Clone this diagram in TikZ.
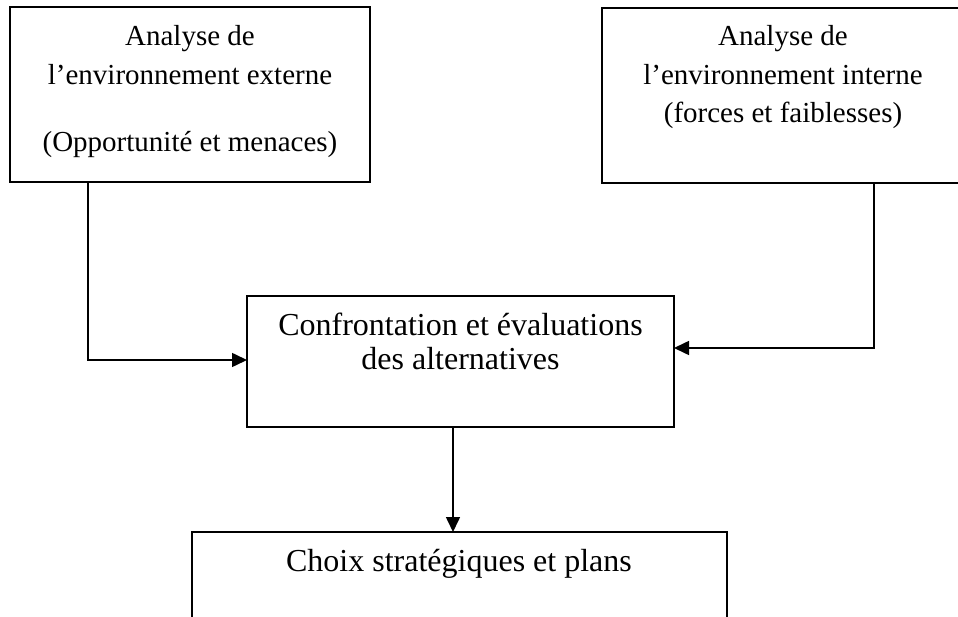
\documentclass[tikz,border=0pt]{standalone}
\usepackage{fontspec}
\setmainfont{Liberation Serif}
\usetikzlibrary{arrows.meta}
\begin{document}
\begin{tikzpicture}[x=1pt,y=1pt,
  box/.style={draw,line width=1.6pt,inner sep=0pt,outer sep=0pt,rectangle},
  txtsmall/.style={anchor=base,inner sep=0pt,font=\fontsize{29}{39}\selectfont},
  txtbig/.style={anchor=base,inner sep=0pt,font=\fontsize{32}{37}\selectfont},
  arr/.style={line width=1.6pt,-{Triangle[length=15pt,width=14pt]}}]
\useasboundingbox (0,0) rectangle (958,616);
\clip (0,0) rectangle (958,616);
% boxes
\node[box,minimum width=360pt,minimum height=175pt] (A) at (190,521.5) {};
\node[box,minimum width=362pt,minimum height=175pt] (B) at (783,520.5) {};
\node[box,minimum width=427pt,minimum height=131pt] (C) at (460.5,254.5) {};
\node[box,minimum width=535pt,minimum height=108pt] (D) at (459.5,30) {};
% texts
\node[txtsmall] (a1) at (190,570) {Analyse de};
\node[txtsmall] (a2) at (190,531) {l’environnement externe};
\node[txtsmall] (a3) at (190,464) {(Opportunité et menaces)};
\node[txtsmall] (b1) at (783,570) {Analyse de};
\node[txtsmall] (b2) at (783,531) {l’environnement interne};
\node[txtsmall] (b3) at (783,493) {(forces et faiblesses)};
\node[txtbig] (c1) at (460.5,280) {Confrontation et évaluations};
\node[txtbig] (c2) at (460.5,246) {des alternatives};
\node[txtbig] (d1) at (459,45) {Choix stratégiques et plans};
% connectors
\draw[arr] ([xshift=78pt]A.south west) |- ([yshift=1.5pt]C.west);
\draw[arr] ([xshift=272pt]B.south west) |- ([yshift=13.5pt]C.east);
\draw[arr] ([xshift=-7.5pt]C.south) -- ([xshift=-6.5pt]D.north);
\end{tikzpicture}
\end{document}
